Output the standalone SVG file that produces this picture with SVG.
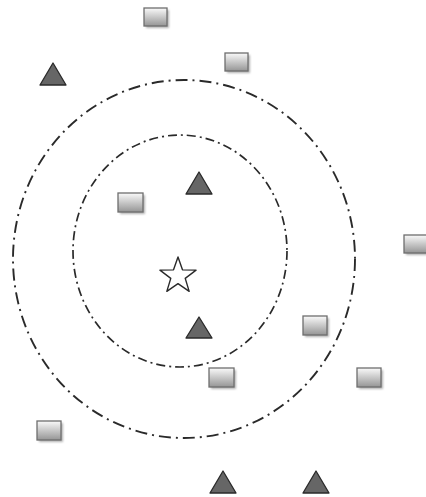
<svg xmlns="http://www.w3.org/2000/svg" width="426" height="497" viewBox="0 0 426 497">
<defs>
<linearGradient id="sq" x1="0" y1="0" x2="0" y2="1">
<stop offset="0" stop-color="#fafafa"/>
<stop offset="1" stop-color="#959595"/>
</linearGradient>
<filter id="sh" x="-30%" y="-30%" width="170%" height="170%">
<feGaussianBlur stdDeviation="1"/>
</filter>
<style>
.bg{fill:#ffffff}
.ring1{fill:none;stroke:#2a2a2a;stroke-width:1.9;stroke-dasharray:12 5 2 5}
.ring2{fill:none;stroke:#2a2a2a;stroke-width:1.7;stroke-dasharray:9 4 2 4}
.sqs{fill:#b0b0b0;filter:url(#sh)}
.sqb{fill:url(#sq);stroke:#6e6e6e;stroke-width:1.3}
.tri{fill:#666;stroke:#2a2a2a;stroke-width:1.3;stroke-linejoin:round}
.star{fill:#fff;stroke:#2a2a2a;stroke-width:1.4;stroke-linejoin:round}
</style>
</defs>
<rect class="bg" x="0" y="0" width="426" height="497"/>
<g id="rings">
<ellipse class="ring1" cx="184" cy="259" rx="171" ry="179"/>
<ellipse class="ring2" cx="180" cy="251" rx="107" ry="116"/>
</g>
<g id="star"><polygon class="star" points="178,257 182.47,269.85 196.07,270.13 185.23,278.35 189.17,291.37 178,283.6 166.83,291.37 170.77,278.35 159.93,270.13 173.53,269.85"/></g>
<g id="sq1"><rect class="sqs" x="146" y="10" width="23" height="18"/><rect class="sqb" x="144" y="8" width="23" height="18"/></g>
<g id="sq2"><rect class="sqs" x="227" y="55" width="23" height="18"/><rect class="sqb" x="225" y="53" width="23" height="18"/></g>
<g id="sq3"><rect class="sqs" x="120" y="195" width="25" height="19"/><rect class="sqb" x="118" y="193" width="25" height="19"/></g>
<g id="sq4"><rect class="sqs" x="406" y="237" width="23" height="18"/><rect class="sqb" x="404" y="235" width="23" height="18"/></g>
<g id="sq5"><rect class="sqs" x="305" y="318" width="24" height="19"/><rect class="sqb" x="303" y="316" width="24" height="19"/></g>
<g id="sq6"><rect class="sqs" x="211" y="370" width="25" height="19"/><rect class="sqb" x="209" y="368" width="25" height="19"/></g>
<g id="sq7"><rect class="sqs" x="359" y="370" width="24" height="19"/><rect class="sqb" x="357" y="368" width="24" height="19"/></g>
<g id="sq8"><rect class="sqs" x="39" y="423" width="24" height="19"/><rect class="sqb" x="37" y="421" width="24" height="19"/></g>
<g id="tri1"><polygon class="tri" points="53,63 66,85 40,85"/></g>
<g id="tri2"><polygon class="tri" points="199,172 212,194 186,194"/></g>
<g id="tri3"><polygon class="tri" points="199,317 212,338 186,338"/></g>
<g id="tri4"><polygon class="tri" points="223,471 236,493 210,493"/></g>
<g id="tri5"><polygon class="tri" points="316,471 329,493 303,493"/></g>
</svg>
